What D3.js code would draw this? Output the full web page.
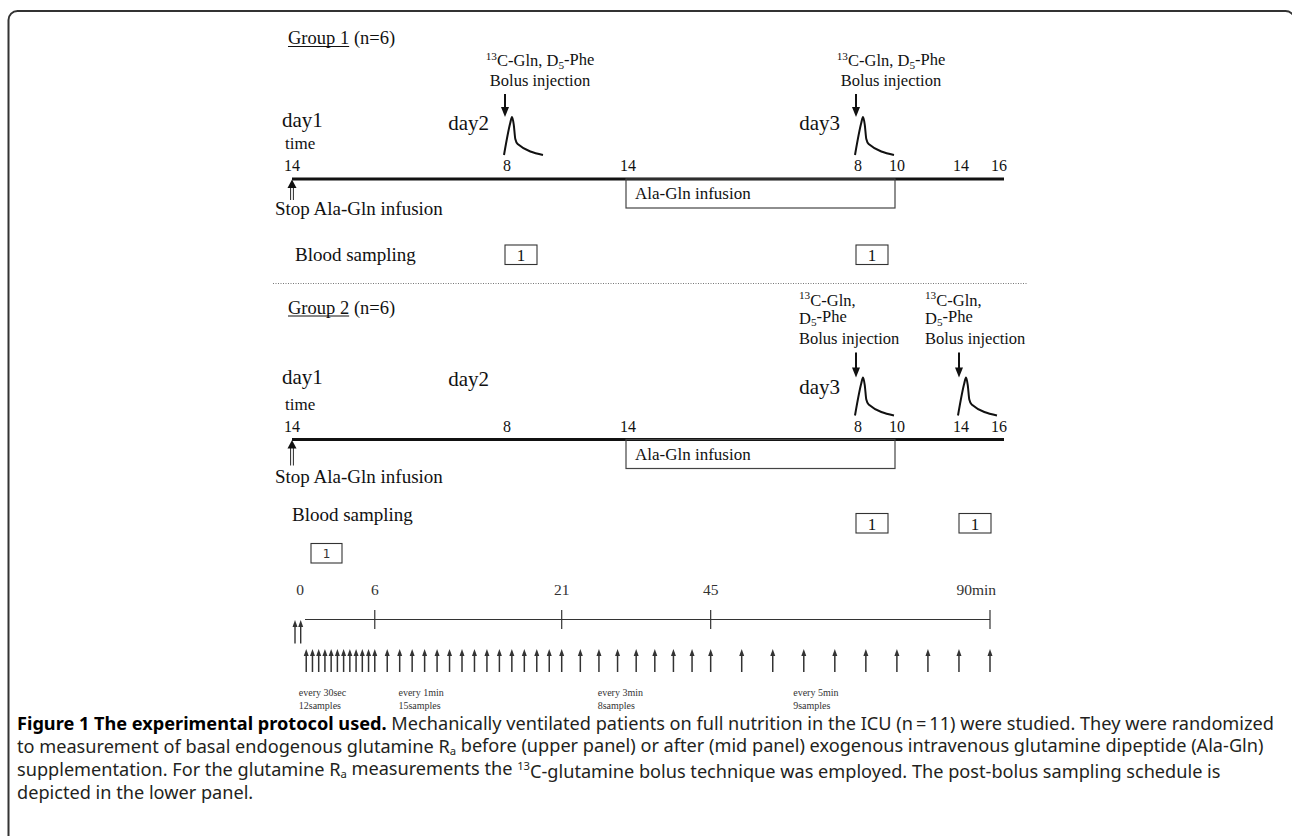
<!DOCTYPE html>
<html><head><meta charset="utf-8">
<script src="https://cdn.jsdelivr.net/npm/d3@7"></script>
<style>body{margin:0;background:#fff}svg{display:block}</style>
</head><body>
<svg id="c" width="1292" height="836"></svg>
<script>
// ---------- data ----------
const hourTicks = [0, 18, 24, 42, 44, 48, 50];          // hours after day1 14:00
const hourLabels = ["14", "8", "14", "8", "10", "14", "16"];
const dayNames = ["day1", "day2", "day3"];
const dayAnchorHours = [0, 18, 42];
const infusionHours = [24, 44];
const group1Bolus = [18, 42];
const group2Bolus = [42, 48];
const group1Sampling = [18, 42];
const group2Sampling = [42, 48];
const bolusProfile = [[0,0],[0.16,0.84],[0.205,1],[0.25,0.8],[0.29,0.42],[0.35,0.29],[1,0]];
const minuteTicks = [0, 6, 21, 45, 90];
const minuteLabels = ["0", "6", "21", "45", "90min"];
const sampleMinutes = [0.5,1,1.5,2,2.5,3,3.5,4,4.5,5,5.5,6,
  7,8,9,10,11,12,13,14,15,16,17,18,19,20,21,
  24,27,30,33,36,39,42,45,
  50,55,60,65,70,75,80,85,90];
const scheduleLines1 = ["every 30sec", "every 1min", "every 3min", "every 5min"];
const scheduleLines2 = ["12samples", "15samples", "8samples", "9samples"];
const scheduleLabelMinutes = [-0.1, 7.9, 26.8, 58.3];

// ---------- setup ----------
const svg = d3.select("#c");
const serif = "'Liberation Serif','Times New Roman',serif";
const ink = "#111";

svg.append("rect").attr("x", 8.5).attr("y", 11).attr("width", 1286).attr("height", 900)
  .attr("rx", 9).attr("fill", "none").attr("stroke", "#333").attr("stroke-width", 2);

const x = d3.scaleLinear().domain(hourTicks).range([292, 507, 628, 858, 897, 961, 999]);

function arrow(g, ax, yTop, yTip, hw, hh, lw, color) {
  g.append("line").attr("x1", ax).attr("x2", ax).attr("y1", yTop).attr("y2", yTip - hh * 0.6)
    .attr("stroke", color).attr("stroke-width", lw);
  g.append("path").attr("d", `M${ax - hw / 2},${yTip - hh} L${ax + hw / 2},${yTip - hh} L${ax},${yTip} Z`)
    .attr("fill", color);
}
function upArrow(g, ax, yTip, yBot, hw, hh, lw, color) {
  g.append("line").attr("x1", ax).attr("x2", ax).attr("y1", yTip + hh * 0.5).attr("y2", yBot)
    .attr("stroke", color).attr("stroke-width", lw);
  g.append("path").attr("d", `M${ax - hw / 2},${yTip + hh} L${ax + hw / 2},${yTip + hh} L${ax},${yTip} Z`)
    .attr("fill", color);
}
function isoLabel(t) {
  t.append("tspan").attr("font-size", "0.68em").attr("dy", "-0.38em").text("13");
  t.append("tspan").attr("dy", "0.38em").text("C-Gln,");
}
function d5Label(t) {
  t.append("tspan").text("D");
  t.append("tspan").attr("font-size", "0.68em").attr("dy", "0.25em").text("5");
  t.append("tspan").attr("dy", "-0.25em").text("-Phe");
}

const curveW = 39, curveH = 38;
const cx = d3.scaleLinear().domain([0, 1]).range([0, curveW]);
const cy = d3.scaleLinear().domain([0, 1]).range([0, -curveH]);
const curveLine = d3.line().x(d => cx(d[0])).y(d => cy(d[1])).curve(d3.curveMonotoneX);

function panel(cfg) {
  const g = svg.append("g").attr("font-family", serif).attr("fill", ink);
  const y0 = cfg.lineY;
  // title
  const t1 = g.append("text").attr("x", 288).attr("y", cfg.titleY).attr("font-size", 18.5).text(cfg.name);
  const w1 = t1.node().getComputedTextLength();
  g.append("line").attr("x1", 288).attr("x2", 288 + w1).attr("y1", cfg.titleY + 2.5).attr("y2", cfg.titleY + 2.5)
    .attr("stroke", ink).attr("stroke-width", 1);
  g.append("text").attr("x", 288 + w1 + 4.8).attr("y", cfg.titleY).attr("font-size", 18.5).text("(n=6)");
  // days
  dayNames.forEach((d, i) => {
    const h = dayAnchorHours[i];
    g.append("text").attr("x", i === 0 ? x(h) - 10 : x(h) - 18).attr("y", y0 + cfg.dayDy[i])
      .attr("text-anchor", i === 0 ? "start" : "end").attr("font-size", 21).text(d);
  });
  g.append("text").attr("x", 285).attr("y", y0 - 30).attr("font-size", 17).text("time");
  // hour tick labels
  g.selectAll(null).data(hourTicks).enter().append("text")
    .attr("x", d => x(d)).attr("y", y0 - 8).attr("text-anchor", "middle").attr("font-size", 16)
    .text((d, i) => hourLabels[i]);
  // main timeline
  g.append("line").attr("x1", x(0)).attr("x2", x(50) + 5).attr("y1", y0).attr("y2", y0)
    .attr("stroke", ink).attr("stroke-width", 3.2);
  // infusion box
  g.append("rect").attr("x", x(infusionHours[0]) - 2).attr("y", y0)
    .attr("width", x(infusionHours[1]) - x(infusionHours[0])).attr("height", 29)
    .attr("fill", "none").attr("stroke", "#444").attr("stroke-width", 1.2);
  g.append("text").attr("x", x(infusionHours[0]) + 7).attr("y", y0 + 20).attr("font-size", 17).text("Ala-Gln infusion");
  // stop arrow (double shaft)
  const sx = x(0);
  [-1.4, 1.4].forEach(o => g.append("line").attr("x1", sx + o).attr("x2", sx + o)
    .attr("y1", y0 + 7).attr("y2", y0 + cfg.stopLen).attr("stroke", ink).attr("stroke-width", 0.9));
  g.append("path").attr("d", `M${sx - 4.5},${y0 + 9} L${sx + 4.5},${y0 + 9} L${sx},${y0 + 0.5} Z`).attr("fill", ink);
  g.append("text").attr("x", 275).attr("y", cfg.stopY).attr("font-size", 19).text("Stop Ala-Gln infusion");
  // blood sampling
  g.append("text").attr("x", cfg.bsX).attr("y", cfg.bsY).attr("font-size", 19).text("Blood sampling");
  cfg.sampling.forEach(h => {
    g.append("rect").attr("x", x(h) - 2).attr("y", cfg.boxY).attr("width", 32).attr("height", 19.5)
      .attr("fill", "none").attr("stroke", "#333").attr("stroke-width", 1.1);
    g.append("text").attr("x", x(h) + 14).attr("y", cfg.boxY + 16).attr("text-anchor", "middle")
      .attr("font-size", 17).text("1");
  });
  // boluses
  cfg.bolus.forEach((h, i) => {
    arrow(g, x(h) - 2, y0 + cfg.arrowTop[i], y0 - 62, 8, 10, 2, ink);
    g.append("path").attr("transform", `translate(${x(h) - 3},${y0 - 24})`)
      .attr("d", curveLine(bolusProfile)).attr("fill", "none").attr("stroke", ink).attr("stroke-width", 2);
    cfg.bolusLabel(g, h, i);
  });
}

// Group 1
panel({
  name: "Group 1", titleY: 44, lineY: 179, dayDy: [-52, -49, -49],
  stopLen: 21, stopY: 215, bsX: 295, bsY: 261, boxY: 245,
  sampling: group1Sampling, bolus: group1Bolus, arrowTop: [-85, -85],
  bolusLabel: (g, h) => {
    const t = g.append("text").attr("x", x(h) + 33).attr("y", 64).attr("text-anchor", "middle").attr("font-size", 16.5);
    isoLabel(t); t.append("tspan").text(" "); d5Label(t);
    g.append("text").attr("x", x(h) + 33).attr("y", 86).attr("text-anchor", "middle").attr("font-size", 16.5).text("Bolus injection");
  }
});

// separator
svg.append("line").attr("x1", 273).attr("x2", 1028).attr("y1", 283.5).attr("y2", 283.5)
  .attr("stroke", "#777").attr("stroke-width", 1).attr("stroke-dasharray", "1,1.5");

// Group 2
const g2LabelDx = [-59, -36];
panel({
  name: "Group 2", titleY: 313.5, lineY: 439.5, dayDy: [-56, -53.5, -46],
  stopLen: 26, stopY: 483, bsX: 292, bsY: 521, boxY: 513.5,
  sampling: group2Sampling, bolus: group2Bolus, arrowTop: [-87, -87],
  bolusLabel: (g, h, i) => {
    const lx = x(h) + g2LabelDx[i];
    const a = g.append("text").attr("x", lx).attr("y", 303.5).attr("font-size", 16.5); isoLabel(a);
    const b = g.append("text").attr("x", lx).attr("y", 323.5).attr("font-size", 16.5); d5Label(b);
    g.append("text").attr("x", lx).attr("y", 344).attr("font-size", 16.5).text("Bolus injection");
  }
});

// ---------- lower panel: sampling schedule ----------
const lg = svg.append("g").attr("fill", "#333");
const xm = d3.scaleLinear().domain([0, 21, 90]).range([300, 561.7, 990]);
const axisY = 619.5;
lg.append("rect").attr("x", xm(0) + 11).attr("y", 543.5).attr("width", 31).attr("height", 19.5)
  .attr("fill", "none").attr("stroke", "#333").attr("stroke-width", 1.1);
lg.append("text").attr("x", xm(0) + 26.5).attr("y", 558).attr("text-anchor", "middle")
  .attr("font-family", "'DejaVu Sans',sans-serif").attr("font-size", 12).text("1");
lg.append("line").attr("x1", xm(0) + 5).attr("x2", xm(90)).attr("y1", axisY).attr("y2", axisY)
  .attr("stroke", "#333").attr("stroke-width", 1.2);
lg.selectAll(null).data(minuteTicks.slice(1)).enter().append("line")
  .attr("x1", d => xm(d)).attr("x2", d => xm(d)).attr("y1", axisY - 9.5).attr("y2", axisY + 9.5)
  .attr("stroke", "#333").attr("stroke-width", 1.2);
lg.selectAll(null).data(minuteTicks).enter().append("text")
  .attr("x", (d, i) => i === minuteTicks.length - 1 ? xm(d) + 6 : xm(d))
  .attr("y", 594.5).attr("text-anchor", (d, i) => i === minuteTicks.length - 1 ? "end" : "middle")
  .attr("font-family", serif).attr("font-size", 15.5).text((d, i) => minuteLabels[i]);
// bolus at time 0 (double arrow)
[-5, 0.7].forEach(o => upArrow(lg, xm(0) + o, axisY + 0.5, axisY + 24, 5, 7, 1.4, "#333"));
// sample arrows
sampleMinutes.forEach(m => upArrow(lg, xm(m), 649, 672, 5, 7, 1.5, "#333"));
// schedule labels
scheduleLines1.forEach((s, i) => {
  lg.append("text").attr("x", xm(scheduleLabelMinutes[i])).attr("y", 696).attr("font-family", serif)
    .attr("font-size", 10).text(s);
  lg.append("text").attr("x", xm(scheduleLabelMinutes[i])).attr("y", 709).attr("font-family", serif)
    .attr("font-size", 10).text(scheduleLines2[i]);
});

// ---------- caption ----------
const cap = svg.append("g").attr("font-family", "'Noto Sans','Open Sans',sans-serif").attr("fill", "#231f20");
const l1 = cap.append("text").attr("x", 17).attr("y", 730);
l1.append("tspan").attr("font-weight", "bold").attr("fill", "#000").text("Figure 1 The experimental protocol used.");
l1.append("tspan").text(" Mechanically ventilated patients on full nutrition in the ICU (n\u2009=\u200911) were studied. They were randomized");
const l2 = cap.append("text").attr("x", 17).attr("y", 753);
l2.append("tspan").text("to measurement of basal endogenous glutamine R");
l2.append("tspan").attr("font-size", "0.62em").attr("dy", "0.18em").text("a");
l2.append("tspan").attr("dy", "-0.18em").text(" before (upper panel) or after (mid panel) exogenous intravenous glutamine dipeptide (Ala-Gln)");
const l3 = cap.append("text").attr("x", 17).attr("y", 776);
l3.append("tspan").text("supplementation. For the glutamine R");
l3.append("tspan").attr("font-size", "0.62em").attr("dy", "0.18em").text("a");
l3.append("tspan").attr("dy", "-0.18em").text(" measurements the ");
l3.append("tspan").attr("font-size", "0.62em").attr("dy", "-0.45em").text("13");
l3.append("tspan").attr("dy", "0.45em").text("C-glutamine bolus technique was employed. The post-bolus sampling schedule is");
cap.append("text").attr("x", 17).attr("y", 799).text("depicted in the lower panel.");
cap.attr("font-size", 16);
const w = l1.node().getComputedTextLength();
cap.attr("font-size", 16 * 1258 / w);
</script>
</body></html>
